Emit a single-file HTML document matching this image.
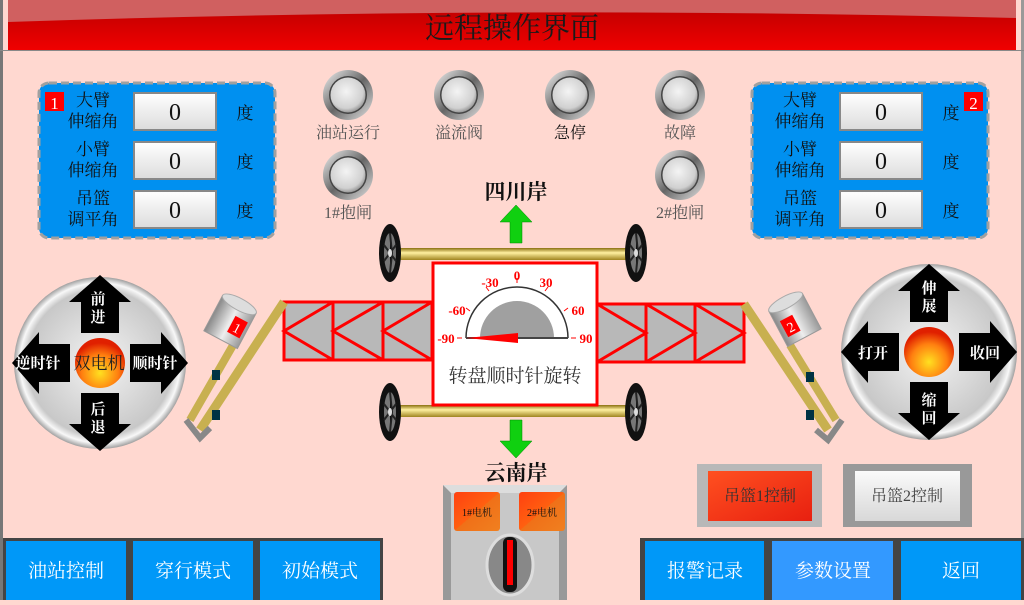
<!DOCTYPE html>
<html><head><meta charset="utf-8"><style>
html,body{margin:0;padding:0;}
body{width:1024px;height:600px;overflow:hidden;background:#ffd8d0;}
svg text{font-family:"Liberation Serif","Noto Serif CJK SC","Noto Sans CJK SC",serif;}
.s{font-family:"Liberation Sans","Noto Sans CJK SC",sans-serif !important;}
</style></head><body>
<svg width="1024" height="600" viewBox="0 0 1024 600" xmlns="http://www.w3.org/2000/svg">
<defs>
<linearGradient id="hdr" x1="0" y1="0" x2="0" y2="1"><stop offset="0" stop-color="#b80000"/><stop offset="1" stop-color="#f00000"/></linearGradient>
<radialGradient id="lamp" cx="0.45" cy="0.4" r="0.6"><stop offset="0" stop-color="#f4f4f4"/><stop offset="0.8" stop-color="#d0d0d0"/><stop offset="1" stop-color="#999"/></radialGradient>
<linearGradient id="ring" x1="0" y1="0" x2="1" y2="1"><stop offset="0" stop-color="#f4f4f4"/><stop offset="0.5" stop-color="#666"/><stop offset="1" stop-color="#e4e4e4"/></linearGradient>
<linearGradient id="inp" x1="0" y1="0" x2="0" y2="1"><stop offset="0" stop-color="#fff"/><stop offset="1" stop-color="#dcdcdc"/></linearGradient>
<linearGradient id="gold" x1="0" y1="0" x2="0" y2="1"><stop offset="0" stop-color="#8a7010"/><stop offset="0.4" stop-color="#fff0a0"/><stop offset="1" stop-color="#a08420"/></linearGradient>
<radialGradient id="disc" cx="0.5" cy="0.5" r="0.5"><stop offset="0" stop-color="#f4f4f4"/><stop offset="0.85" stop-color="#c8c8c8"/><stop offset="0.93" stop-color="#f8f8f8"/><stop offset="1" stop-color="#a0a0a0"/></radialGradient>
<radialGradient id="ball" cx="0.5" cy="0.7" r="0.6"><stop offset="0" stop-color="#ffe020"/><stop offset="0.6" stop-color="#ff8010"/><stop offset="1" stop-color="#e02000"/></radialGradient>
<linearGradient id="redb" x1="0" y1="0" x2="1" y2="1"><stop offset="0" stop-color="#ff5020"/><stop offset="1" stop-color="#e82010"/></linearGradient>
<linearGradient id="greyb" x1="0" y1="0" x2="0" y2="1"><stop offset="0" stop-color="#fafafa"/><stop offset="1" stop-color="#d8d8d8"/></linearGradient>
<linearGradient id="orb" x1="0" y1="0" x2="1" y2="1"><stop offset="0" stop-color="#ff4010"/><stop offset="0.5" stop-color="#ff6010"/><stop offset="0.5" stop-color="#f07018"/><stop offset="1" stop-color="#f08020"/></linearGradient>
<linearGradient id="cyl" x1="0" y1="0" x2="1" y2="0"><stop offset="0" stop-color="#888"/><stop offset="0.5" stop-color="#eee"/><stop offset="1" stop-color="#999"/></linearGradient>
<g id="lampG"><circle r="25" fill="url(#ring)"/><circle r="19" fill="#444"/><circle r="17.5" fill="url(#lamp)"/></g>
<g id="wheel"><ellipse rx="11" ry="29" fill="#111"/><ellipse rx="6" ry="20" fill="#777"/><path d="M0,-20 L2,0 L0,20 M-6,-8 L6,8 M-6,8 L6,-8" stroke="#222" stroke-width="2"/><ellipse rx="2" ry="4" fill="#ddd"/></g>
<polygon id="arr" points="0,-88 31,-61 19,-61 19,-30 -19,-30 -19,-61 -31,-61" fill="#000"/>
</defs>

<rect x="0" y="0" width="1024" height="600" fill="#ffd8d0"/>
<rect x="0" y="0" width="3" height="600" fill="#777"/>
<rect x="1021" y="0" width="3" height="600" fill="#999"/>
<rect x="8" y="0" width="1008" height="50" fill="url(#hdr)"/>
<path d="M8,0 H1016 V18 Q512,5 8,22 Z" fill="#d06060"/>
<rect x="0" y="50" width="1024" height="1" fill="#888"/>
<text x="512" y="38" font-size="29" text-anchor="middle" fill="#1a1a1a">远程操作界面</text>

<rect x="39" y="83" width="236" height="155" rx="10" fill="#0090f0" stroke="#a0a0a0" stroke-width="3" stroke-dasharray="8,4"/>
<rect x="45" y="92" width="19" height="19" fill="#f00"/><text x="54.5" y="109" font-size="17" fill="#fff" text-anchor="middle">1</text>
<g font-size="17" fill="#111" text-anchor="middle">
<text x="93" y="106">大臂</text><text x="93" y="127">伸缩角</text>
<text x="93" y="155">小臂</text><text x="93" y="176">伸缩角</text>
<text x="93" y="204">吊篮</text><text x="93" y="225">调平角</text>
<text x="245" y="119">度</text><text x="245" y="168">度</text><text x="245" y="217">度</text>
</g>
<g stroke="#888" stroke-width="2" fill="url(#inp)">
<rect x="134" y="93" width="82" height="37"/><rect x="134" y="142" width="82" height="37"/><rect x="134" y="191" width="82" height="37"/>
</g>
<g font-size="24" fill="#111" text-anchor="middle"><text x="175" y="120">0</text><text x="175" y="169">0</text><text x="175" y="218">0</text></g>

<rect x="752" y="83" width="236" height="155" rx="10" fill="#0090f0" stroke="#a0a0a0" stroke-width="3" stroke-dasharray="8,4"/>
<rect x="964" y="92" width="19" height="19" fill="#f00"/><text x="973.5" y="109" font-size="17" fill="#fff" text-anchor="middle">2</text>
<g font-size="17" fill="#111" text-anchor="middle">
<text x="800" y="106">大臂</text><text x="800" y="127">伸缩角</text>
<text x="800" y="155">小臂</text><text x="800" y="176">伸缩角</text>
<text x="800" y="204">吊篮</text><text x="800" y="225">调平角</text>
<text x="951" y="119">度</text><text x="951" y="168">度</text><text x="951" y="217">度</text>
</g>
<g stroke="#888" stroke-width="2" fill="url(#inp)">
<rect x="840" y="93" width="82" height="37"/><rect x="840" y="142" width="82" height="37"/><rect x="840" y="191" width="82" height="37"/>
</g>
<g font-size="24" fill="#111" text-anchor="middle"><text x="881" y="120">0</text><text x="881" y="169">0</text><text x="881" y="218">0</text></g>

<use href="#lampG" x="348" y="95"/><use href="#lampG" x="459" y="95"/><use href="#lampG" x="570" y="95"/><use href="#lampG" x="680" y="95"/>
<use href="#lampG" x="348" y="175"/><use href="#lampG" x="680" y="175"/>
<g font-size="16" fill="#555" text-anchor="middle">
<text x="348" y="138">油站运行</text><text x="459" y="138">溢流阀</text><text x="570" y="138" fill="#111">急停</text><text x="680" y="138">故障</text>
<text x="348" y="218">1#抱闸</text><text x="680" y="218">2#抱闸</text>
</g>

<text x="516" y="199" font-size="21" font-weight="bold" text-anchor="middle" fill="#111">四川岸</text>
<polygon points="516,205 532,222 522,222 522,243 510,243 510,222 500,222" fill="#10d010" stroke="#080" stroke-width="0.5"/>
<polygon points="516,458 532,441 522,441 522,420 510,420 510,441 500,441" fill="#10d010" stroke="#080" stroke-width="0.5"/>
<text x="516" y="480" font-size="21" font-weight="bold" text-anchor="middle" fill="#111">云南岸</text>

<rect x="392" y="248" width="244" height="12" fill="url(#gold)"/>
<rect x="392" y="405" width="244" height="12" fill="url(#gold)"/>
<use href="#wheel" x="390" y="253"/><use href="#wheel" x="636" y="253"/>
<use href="#wheel" x="390" y="412"/><use href="#wheel" x="636" y="412"/>

<g stroke="#f00" stroke-width="3" fill="#b8b8b8">
<rect x="284" y="302" width="148" height="58"/>
<path d="M333,302 V360 M383,302 V360 M333,302 L284,331 L333,360 M383,302 L333,331 L383,360 M432,302 L383,331 L432,360" fill="none"/>
<rect x="597" y="304" width="147" height="58"/>
<path d="M646,304 V362 M695,304 V362 M597,304 L646,333 L597,362 M646,304 L695,333 L646,362 M695,304 L744,333 L695,362" fill="none"/>
</g>

<rect x="433" y="263" width="164" height="142" fill="#fff" stroke="#f00" stroke-width="3"/>
<path d="M466,338 A51,51 0 0 1 568,338" fill="#fff" stroke="#333" stroke-width="1.5"/>
<path d="M480,338 A37,37 0 0 1 554,338 Z" fill="#a0a0a0"/>
<line x1="466" y1="338" x2="568" y2="338" stroke="#444" stroke-width="2"/>
<polygon points="466,338 518,333 518,343" fill="#f00"/>
<g stroke="#f00" stroke-width="1">
<path d="M462,338 h-5 M571,338 h5 M517,283 v-5 M489,291 l-3,-4 M545,291 l3,-4 M470,311 l-4,-3 M564,311 l4,-3"/>
</g>
<g font-size="13" font-weight="bold" fill="#f00" text-anchor="middle" class="s">
<text x="446" y="343">-90</text><text x="586" y="343">90</text><text x="517" y="280">0</text>
<text x="490" y="287">-30</text><text x="546" y="287">30</text>
<text x="457" y="315">-60</text><text x="578" y="315">60</text>
</g>
<text x="515" y="382" font-size="19" text-anchor="middle" fill="#333">转盘顺时针旋转</text>

<line x1="284" y1="302" x2="200" y2="430" stroke="#c8b050" stroke-width="9"/>
<line x1="236" y1="340" x2="190" y2="420" stroke="#c8b050" stroke-width="8"/>
<path d="M186,420 L200,438 L210,428" fill="none" stroke="#888" stroke-width="6"/>
<rect x="212" y="370" width="8" height="10" fill="#034"/><rect x="212" y="410" width="8" height="10" fill="#034"/>
<g transform="translate(230,322) rotate(28)">
<rect x="-19" y="-20" width="38" height="40" fill="url(#cyl)" stroke="#999"/>
<ellipse cx="0" cy="-20" rx="19" ry="6" fill="#ddd" stroke="#aaa"/>
<rect x="2" y="-8" width="14" height="18" fill="#f00"/>
<text x="9" y="7" font-size="14" fill="#fff" text-anchor="middle">1</text>
</g>
<line x1="744" y1="304" x2="828" y2="430" stroke="#c8b050" stroke-width="9"/>
<line x1="790" y1="345" x2="836" y2="420" stroke="#c8b050" stroke-width="8"/>
<path d="M842,420 L828,440 L816,430" fill="none" stroke="#888" stroke-width="6"/>
<rect x="806" y="372" width="8" height="10" fill="#034"/><rect x="806" y="410" width="8" height="10" fill="#034"/>
<g transform="translate(795,320) rotate(-28)">
<rect x="-19" y="-20" width="38" height="40" fill="url(#cyl)" stroke="#999"/>
<ellipse cx="0" cy="-20" rx="19" ry="6" fill="#ddd" stroke="#aaa"/>
<rect x="-14" y="-6" width="14" height="18" fill="#f00"/>
<text x="-7" y="9" font-size="14" fill="#fff" text-anchor="middle">2</text>
</g>

<g transform="translate(100,363)">
<circle r="86" fill="url(#disc)"/>
<use href="#arr"/><use href="#arr" transform="rotate(90)"/><use href="#arr" transform="rotate(180)"/><use href="#arr" transform="rotate(270)"/>
<circle r="25" fill="url(#ball)"/>
</g>
<g font-size="15" font-weight="bold" fill="#fff" text-anchor="middle" class="s">
<text x="98" y="304">前</text><text x="98" y="322">进</text>
<text x="98" y="414">后</text><text x="98" y="432">退</text>
<text x="38" y="368">逆时针</text><text x="155" y="368">顺时针</text>
</g>
<text x="99" y="369" font-size="17" text-anchor="middle" fill="#222">双电机</text>

<g transform="translate(929,352)">
<circle r="88" fill="url(#disc)"/>
<use href="#arr"/><use href="#arr" transform="rotate(90)"/><use href="#arr" transform="rotate(180)"/><use href="#arr" transform="rotate(270)"/>
<circle r="25" fill="url(#ball)"/>
</g>
<g font-size="15" font-weight="bold" fill="#fff" text-anchor="middle" class="s">
<text x="929" y="293">伸</text><text x="929" y="311">展</text>
<text x="929" y="405">缩</text><text x="929" y="423">回</text>
<text x="873" y="358">打开</text><text x="985" y="358">收回</text>
</g>

<rect x="697" y="464" width="125" height="63" fill="#b8b8b8"/>
<rect x="708" y="471" width="104" height="50" fill="url(#redb)"/>
<text x="760" y="501" font-size="16" text-anchor="middle" fill="#333">吊篮1控制</text>
<rect x="843" y="464" width="129" height="63" fill="#999"/>
<rect x="855" y="471" width="105" height="50" fill="url(#greyb)"/>
<text x="907" y="501" font-size="16" text-anchor="middle" fill="#444">吊篮2控制</text>

<rect x="443" y="485" width="124" height="115" fill="#999"/>
<polygon points="443,485 567,485 559,493 451,493" fill="#ddd"/>
<rect x="451" y="493" width="108" height="107" fill="#c8c8c8"/>
<rect x="454" y="492" width="46" height="39" rx="3" fill="url(#orb)"/>
<rect x="519" y="492" width="46" height="39" rx="3" fill="url(#orb)"/>
<g font-size="10" fill="#111" text-anchor="middle" class="s"><text x="477" y="516">1#电机</text><text x="542" y="516">2#电机</text></g>
<ellipse cx="510" cy="565" rx="23" ry="30" fill="#888" stroke="#ddd" stroke-width="3"/>
<rect x="503" y="537" width="14" height="55" rx="6" fill="#111"/>
<rect x="507" y="540" width="6" height="45" fill="#f00"/>

<g fill="#444">
<rect x="3" y="538" width="380" height="62"/><rect x="640" y="538" width="384" height="62"/>
</g>
<g fill="#0098f8">
<rect x="6" y="541" width="120" height="59"/><rect x="133" y="541" width="120" height="59"/><rect x="260" y="541" width="120" height="59"/>
<rect x="645" y="541" width="119" height="59"/><rect x="901" y="541" width="120" height="59"/>
</g>
<rect x="772" y="541" width="121" height="59" fill="#3399ff"/>
<g font-size="19" fill="#fff" text-anchor="middle">
<text x="66" y="577">油站控制</text><text x="193" y="577">穿行模式</text><text x="320" y="577">初始模式</text>
<text x="705" y="577">报警记录</text><text x="833" y="577">参数设置</text><text x="961" y="577">返回</text>
</g>
</svg>
</body></html>
